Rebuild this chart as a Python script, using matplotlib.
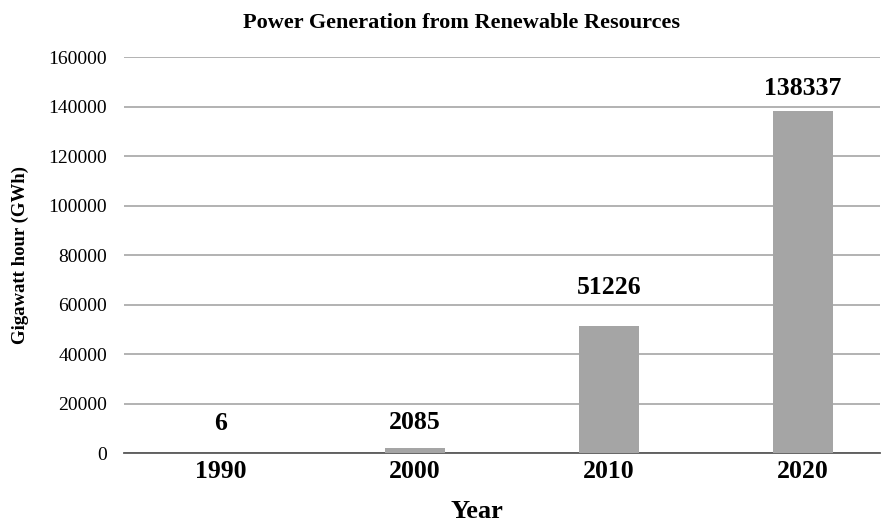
import matplotlib
matplotlib.use("Agg")
import matplotlib.pyplot as plt
import matplotlib.patheffects as pe

years = ["1990", "2000", "2010", "2020"]
values = [6, 2085, 51226, 138337]
yticks = [0, 20000, 40000, 60000, 80000, 100000, 120000, 140000, 160000]
label_offsets_px = [30, 25, 39, 22]

plt.rcParams['font.family'] = ['Liberation Serif', 'DejaVu Serif']

fig = plt.figure(figsize=(8.85, 5.25), dpi=100)
ax = fig.add_axes([0.140, 0.137, 0.854, 0.754])

x = list(range(len(years)))
ax.bar(x, values, width=0.31, color='#A5A5A5', zorder=3,
       path_effects=[pe.SimplePatchShadow(offset=(0, 0), shadow_rgbFace='#d0d0d0', alpha=0.7),
                     pe.Normal()])
for xi, v, off in zip(x, values, label_offsets_px):
    ax.annotate(str(v), (xi, v), xytext=(0, off * 0.72), textcoords='offset points',
                ha='center', va='center', fontsize=18.5, fontweight='bold')

ax.set_xlim(-0.5, 3.397)
ax.set_ylim(0, 160000)
ax.set_yticks(yticks)
ax.set_yticklabels([str(t) for t in yticks], fontsize=14)
ax.set_xticks(x)
ax.set_xticklabels(years, fontsize=18.5, fontweight='bold')
ax.tick_params(axis='both', length=0)
ax.tick_params(axis='y', pad=12)
ax.tick_params(axis='x', pad=5)
ax.grid(axis='y', color='#a6a6a6', linewidth=1.2, zorder=0)
for s in ['top', 'right', 'left']:
    ax.spines[s].set_visible(False)
ax.spines['bottom'].set_color('#595959')
ax.spines['bottom'].set_linewidth(1.3)

fig.text(0.521, 0.957, "Power Generation from Renewable Resources", ha='center', va='center',
         fontsize=16, fontweight='bold')
fig.text(0.0226, 0.514, "Gigawatt hour (GWh)", ha='center', va='center', rotation=90,
         fontsize=13.5, fontweight='bold')
fig.text(0.539, 0.025, "Year", ha='center', va='center', fontsize=19, fontweight='bold')

fig.savefig("out.png", dpi=100)
